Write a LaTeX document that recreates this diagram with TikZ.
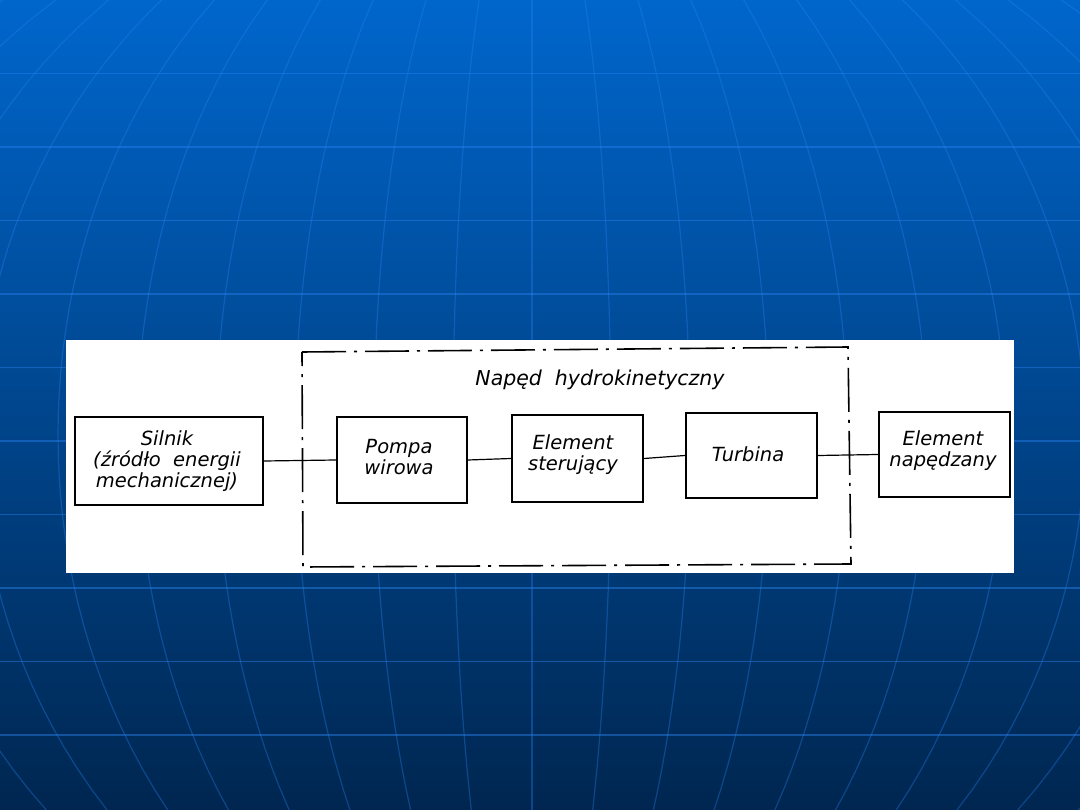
\documentclass[tikz,border=0pt]{standalone}
\usepackage{fontspec}
\setmainfont{DejaVu Sans}
\definecolor{bgtop}{RGB}{0,102,204}
\definecolor{bgmid}{RGB}{0,80,160}
\definecolor{bgbot}{RGB}{0,38,80}
\definecolor{gridc}{RGB}{40,130,240}
\tikzset{
  blockbox/.style={draw=black, line width=2pt, fill=white, inner sep=0pt},
  blocktext/.style={align=center, inner sep=0pt,
    font=\fontsize{19.5}{21}\selectfont\itshape},
  conn/.style={draw=black, line width=1.2pt},
  frameline/.style={draw=black, line width=1.6pt,
    dash pattern=on 44pt off 8pt on 3pt off 8pt},
  meridian/.style={draw=gridc, line width=1.2pt, opacity=0.35},
  parallel/.style={draw=gridc, line width=1.8pt, opacity=0.45},
}
\begin{document}
\begin{tikzpicture}[x=1pt,y=-1pt]
\useasboundingbox (0,0) rectangle (1080,810);
% background
\shade[top color=bgtop, middle color=bgmid, bottom color=bgbot] (0,0) rectangle (1080,810);
\begin{scope}
\clip (0,0) rectangle (1080,810);
\foreach \i in {-10,...,10}
  \draw[meridian] plot[domain=0:810, samples=40, variable=\t]
    ({532+\i*79*sqrt(1-((\t-435)/586)^2)}, {\t});
\foreach \k in {1,...,10}
  \draw[parallel] (0,{73.5*\k}) -- (1080,{73.5*\k});
\end{scope}
% white panel
\fill[white] (66,340) rectangle (1014,573);
% frame
\draw[frameline] (302,352) -- (848,347) -- (851,564) -- (303,567) -- cycle;
\node[font=\fontsize{20.5}{22}\selectfont\itshape] (title) at (600,380) {Napęd~ hydrokinetyczny};
% blocks
\node[blockbox, minimum width=188pt, minimum height=88pt] (silnik) at (169,461) {};
\node[blockbox, minimum width=130pt, minimum height=86pt] (pompa) at (402,460) {};
\node[blockbox, minimum width=131pt, minimum height=87pt] (ster) at (577.5,458.5) {};
\node[blockbox, minimum width=131pt, minimum height=85pt] (turb) at (751.5,455.5) {};
\node[blockbox, minimum width=131pt, minimum height=85pt] (nap) at (944.5,454.5) {};
% texts
\node[blocktext] (silnikT) at (167,461) {Silnik\\(źródło~ energii\\mechanicznej)};
\node[blocktext] (pompaT) at (399,457) {Pompa\\wirowa};
\node[blocktext] (sterT) at (573,455) {Element\\sterujący};
\node[blocktext] (turbT) at (748,454) {Turbina};
\node[blocktext] (napT) at (943,451) {Element\\napędzany};
% connectors
\draw[conn] (silnik.east) -- (pompa.west);
\draw[conn] (pompa.east) -- (ster.west);
\draw[conn] (ster.east) -- (turb.west);
\draw[conn] (turb.east) -- (nap.west);
\end{tikzpicture}
\end{document}
